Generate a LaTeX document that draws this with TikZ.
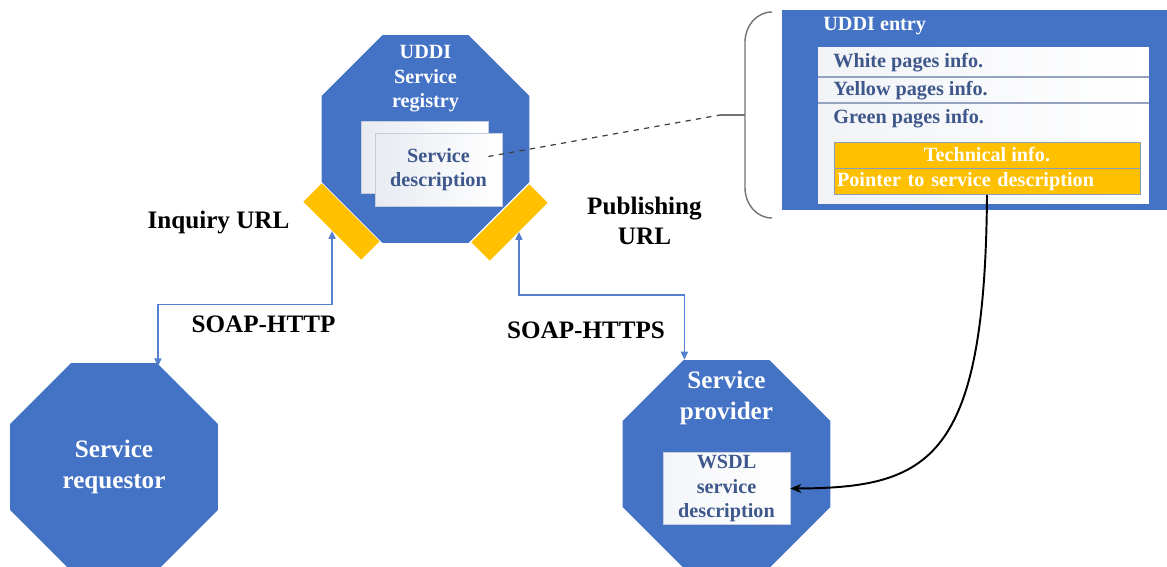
\documentclass[tikz,border=0pt]{standalone}
\usepackage{fontspec}
\setmainfont{Liberation Serif}
\usetikzlibrary{
	shapes.geometric,positioning,calc,arrows.meta
}
\definecolor{uddiblue}{RGB}{68,114,196}
\definecolor{uddiyellow}{RGB}{255,192,0}
\definecolor{slate}{RGB}{62,88,140}
\definecolor{linkblue}{RGB}{84,128,206}
\newcommand{\bigbold}{\fontsize{14.3}{17.5}\selectfont\bfseries}
\newcommand{\smallbold}{\fontsize{11.5}{13.9}\selectfont\bfseries}
\tikzset{
  octagon/.style={
    regular polygon, regular polygon sides=8, minimum size=4.5cm, inner sep=0pt,
    fill=uddiblue, text=white, font=\bigbold, align=center
  },
  %
  port/.style={
    rectangle, minimum width=1.64cm, minimum height=0.52cm, inner sep=0pt, fill=uddiyellow
  },
  %
  card/.style={
    rectangle, minimum width=2.54cm, minimum height=1.44cm, inner sep=1pt,
    draw=slate!30, left color=slate!12, right color=white,
    text=slate, font=\smallbold, align=center
  },
  %
  label/.style={
    font=\bigbold, text=black, align=center
  },
  %
  rowtext/.style={
    anchor=west, inner sep=0pt, text=slate, font=\smallbold
  },
  %
  techbox/.style={
    rectangle, minimum width=6.12cm, minimum height=0.52cm, inner sep=0pt,
    draw=slate!60, fill=uddiyellow, text=white, font=\smallbold
  },
  %
  link/.style={
    <->, >={Triangle[length=1.6mm,width=1.4mm]}, draw=linkblue, line width=0.9pt
  }
}

\begin{document}
\begin{tikzpicture}[x=0.02cm, y=-0.02cm]
\path[use as bounding box, fill=white] (0,0) rectangle (1167,567);

% registry
\node(reg)[octagon] at (425.5,139) {};
\node(regtitle)[text=white, font=\smallbold, align=center] at (425.5,79) {UDDI\\Service\\registry};
\node(backcard)[card] at (424.5,157.5) {};
\node(desc)[card, minimum height=1.46cm] at (438.5,169.5) {Service\\description};
\node(inqport)[port, rotate=-45] at (341.5,221.5) {};
\node(pubport)[port, rotate=45] at (509.5,222.5) {};

% requestor and provider
\node(req)[octagon] at (114,467) {Service\\requestor};
\node(prov)[octagon] at (726.5,464) {};
\node(provtitle)[text=white, font=\bigbold, align=center] at (726.5,398) {Service\\provider};
\node(wsdl)[card, inner sep=0pt, left color=slate!6] at (726.5,488.5) {WSDL\\service\\description};

\node(inq)[label] at (218.5,222) {Inquiry URL};
\node(pub)[label] at (644.5,221) {Publishing\\URL};
\node(http)[label] at (263.5,324) {SOAP-HTTP};
\node(https)[label] at (586,330) {SOAP-HTTPS};

% UDDI entry
\node(entry)[rectangle, fill=uddiblue, minimum width=7.7cm, minimum height=4cm, inner sep=0pt] at (974.5,110) {};
\node(entrytitle)[anchor=west, inner sep=0pt, text=white, font=\smallbold] at (823,26) {UDDI entry};
\node(panel)[rectangle, minimum width=6.62cm, minimum height=3.12cm, inner sep=0pt,
    left color=slate!7, right color=white] at (983.5,125.5) {};
\node(whiterow)[rowtext] at (833,63) {White pages info.};
\node(yellowrow)[rowtext] at (833,91) {Yellow pages info.};
\node(greenrow)[rowtext] at (833,119) {Green pages info.};
\draw[slate!55, line width=0.6pt] (panel.west |- 0,77) -- (panel.east |- 0,77);
\draw[slate!55, line width=0.6pt] (panel.west |- 0,103) -- (panel.east |- 0,103);
\node(tech)[techbox] at (987,155) {Technical info.};
\node(pointer)[techbox, below=0pt of tech, text width=6.0cm, align=left] {Pointer to service description};

% brace
\coordinate (bracetop) at (772,12);
\coordinate (bracebot) at (772,218);
\coordinate (tip) at (720,115);
\draw[black!55, line width=0.8pt] (bracetop) to[out=180, in=90] (745,42) -- (745,188) to[out=-90, in=180] (bracebot);
\draw[black!55, line width=0.8pt] (tip) -- (745,115);

\draw[black!75, dashed, line width=0.7pt] ($(desc.east)+(-14,-13)$) -- (tip);
\draw[link] ([yshift=-0.06cm]req.67.5) -- ++(0,-62) -| (inqport.south);
\draw[link] (prov.112.5) -- ++(0,-65) -| (pubport.south);
\draw[-{Stealth[length=2.2mm,width=1.8mm]}, line width=1.1pt] (pointer.south) .. controls (985,460) and (930,488) .. (wsdl.east);

\end{tikzpicture}
\end{document}
